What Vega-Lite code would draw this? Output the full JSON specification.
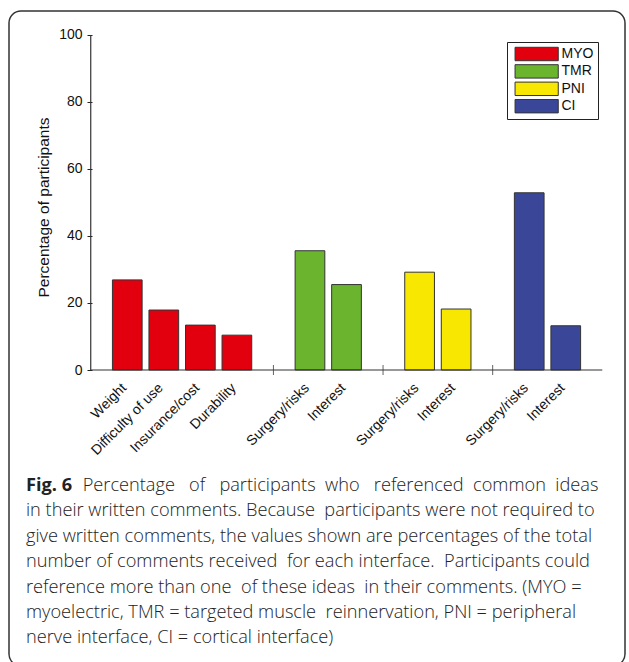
{
  "$schema": "https://vega.github.io/schema/vega-lite/v6.json",
  "width": 616,
  "height": 655,
  "autosize": {"type": "none"},
  "padding": {"left": 9, "top": 11, "right": 4, "bottom": -4},
  "background": "white",
  "config": {
    "view": {"stroke": "#333333", "strokeWidth": 1.5, "cornerRadius": 12, "fill": "white"},
    "font": "Liberation Sans"
  },
  "datasets": {
    "bars": [
      {"group": "MYO", "label": "Weight", "pos": 1, "value": 26.9},
      {"group": "MYO", "label": "Difficulty of use", "pos": 2, "value": 17.9},
      {"group": "MYO", "label": "Insurance/cost", "pos": 3, "value": 13.4},
      {"group": "MYO", "label": "Durability", "pos": 4, "value": 10.4},
      {"group": "TMR", "label": "Surgery/risks", "pos": 6, "value": 35.6},
      {"group": "TMR", "label": "Interest", "pos": 7, "value": 25.5},
      {"group": "PNI", "label": "Surgery/risks", "pos": 9, "value": 29.2},
      {"group": "PNI", "label": "Interest", "pos": 10, "value": 18.2},
      {"group": "CI", "label": "Surgery/risks", "pos": 12, "value": 52.9},
      {"group": "CI", "label": "Interest", "pos": 13, "value": 13.2}
    ],
    "gaps": [{"pos": 5}, {"pos": 8}, {"pos": 11}]
  },
  "title": {
    "text": "Fig. 6",
    "subtitle": [
      "\u200b\u00a0\u00a0\u00a0\u00a0\u00a0\u00a0\u00a0\u00a0\u00a0\u00a0\u00a0\u00a0Percentage \u00a0\u00a0of \u00a0\u00a0participants \u00a0who \u00a0\u00a0referenced \u00a0common \u00a0ideas",
      "in their written comments. Because \u00a0participants were not required to",
      "give written comments, the values shown are percentages of the total",
      "number of comments received \u00a0for each interface. \u00a0Participants could",
      "reference more than one \u00a0of these ideas \u00a0in their comments. (MYO =",
      "myoelectric, TMR = targeted muscle \u00a0reinnervation, PNI = peripheral",
      "nerve interface, CI = cortical interface)"
    ],
    "orient": "bottom",
    "anchor": "start",
    "frame": "group",
    "offset": -189,
    "dx": 17,
    "font": "Open Sans",
    "fontSize": 18.2,
    "fontWeight": "bold",
    "color": "#222222",
    "subtitleFont": "Open Sans",
    "subtitleFontSize": 18.2,
    "subtitleFontWeight": 300,
    "subtitleColor": "#222222",
    "subtitleLineHeight": 25.4,
    "subtitlePadding": -18.2
  },
  "layer": [
    {
      "data": {"name": "bars"},
      "mark": {"type": "bar", "width": 29.7, "stroke": "#333333", "strokeWidth": 1},
      "encoding": {
        "x": {"field": "pos", "type": "quantitative", "scale": {"domain": [-2.1, 14.4846], "nice": false, "zero": false}, "axis": null},
        "y": {
          "field": "value", "type": "quantitative",
          "scale": {"domain": [-88.358, 107.164], "nice": false, "zero": false},
          "axis": {
            "values": [0, 20, 40, 60, 80, 100],
            "offset": -78,
            "domain": false,
            "grid": false,
            "ticks": true,
            "tickSize": -5,
            "tickColor": "#222222",
            "labelPadding": 10,
            "labelFontSize": 14,
            "labelColor": "#111111",
            "labelFont": "Liberation Sans",
            "title": "Percentage of participants",
            "titleFont": "Liberation Sans",
            "titleFontSize": 15.5,
            "titleFontWeight": "normal",
            "titleColor": "#111111",
            "titleAngle": 270,
            "titleX": -44,
            "titleY": 196,
            "titleAlign": "center",
            "titleBaseline": "middle"
          }
        },
        "y2": {"datum": 0},
        "color": {
          "field": "group", "type": "nominal",
          "scale": {"domain": ["MYO", "TMR", "PNI", "CI"], "range": ["#e2000f", "#6ab42e", "#f8e700", "#3a4798"]},
          "legend": {
            "orient": "none",
            "direction": "vertical",
            "legendX": 498,
            "legendY": 31,
            "title": null,
            "symbolType": "M-1,-0.9H4.8V0.9H-1Z",
            "symbolSize": 222,
            "symbolStrokeColor": "#333333",
            "symbolStrokeWidth": 1,
            "symbolOpacity": 1,
            "symbolOffset": 3.5,
            "labelFont": "Liberation Sans",
            "labelFontSize": 14,
            "labelColor": "#111111",
            "labelOffset": 31,
            "rowPadding": -0.6,
            "padding": 4,
            "strokeColor": "#222222",
            "fillColor": "white"
          }
        }
      }
    },
    {
      "data": {"name": "bars"},
      "mark": {"type": "text", "angle": 315, "align": "right", "baseline": "middle", "dx": -13.4, "dy": 9.2, "fontSize": 14, "font": "Liberation Sans", "color": "#111111"},
      "encoding": {
        "x": {"field": "pos", "type": "quantitative"},
        "y": {"datum": 0},
        "text": {"field": "label"}
      }
    },
    {
      "data": {"name": "gaps"},
      "mark": {"type": "tick", "orient": "vertical", "size": 10, "thickness": 1, "color": "#222222"},
      "encoding": {
        "x": {"field": "pos", "type": "quantitative"},
        "y": {"datum": 0}
      }
    },
    {
      "data": {"values": [{}]},
      "mark": {"type": "rule", "color": "#333333", "strokeWidth": 1.2},
      "encoding": {"x": {"datum": 0}, "x2": {"datum": 14}, "y": {"datum": 0}}
    },
    {
      "data": {"values": [{}]},
      "mark": {"type": "rule", "color": "#333333", "strokeWidth": 1.2},
      "encoding": {"x": {"datum": 0}, "y": {"datum": 0}, "y2": {"datum": 100}}
    }
  ]
}
